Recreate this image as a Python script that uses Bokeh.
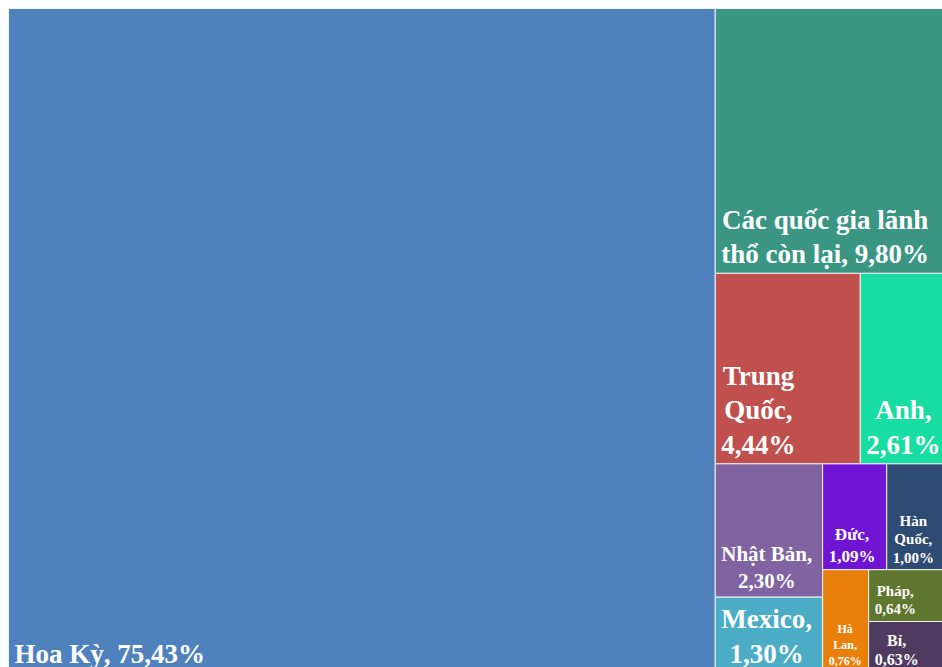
from bokeh.plotting import figure
from bokeh.models import Range1d, ColumnDataSource
from bokeh.core.properties import value
from bokeh.embed import file_html
from bokeh.resources import INLINE

# ---- data -------------------------------------------------------------
countries = ["Hoa Kỳ", "Các quốc gia lãnh thổ còn lại", "Trung Quốc", "Anh",
             "Nhật Bản", "Mexico", "Đức", "Hàn Quốc", "Hà Lan", "Pháp", "Bỉ"]
shares = [75.43, 9.80, 4.44, 2.61, 2.30, 1.30, 1.09, 1.00, 0.76, 0.64, 0.63]
label_templates = ["Hoa Kỳ, {}", "Các quốc gia lãnh\nthổ còn lại, {}", "Trung\nQuốc,\n{}",
                   "Anh,\n{}", "Nhật Bản,\n{}", "Mexico,\n{}", "Đức,\n{}",
                   "Hàn\nQuốc,\n{}", "Hà\nLan,\n{}", "Pháp,\n{}", "Bỉ,\n{}"]

# ---- styles -----------------------------------------------------------
colors = ["#4F81BD", "#3A9682", "#C0504D", "#17DDA0", "#8064A2", "#4BACC6",
          "#7014D3", "#2E4B73", "#E9800C", "#5E762E", "#4F3A60"]
font_px = [27, 27, 27, 27, 21, 27, 17, 15, 12, 15, 16]
strips = [1, 1, 2, 2, 2, 1, 1, 1]   # number of tiles per strip of the layout

LAYOUT_W, LAYOUT_H = 937, 664       # full treemap extent (window crops it)
FIG_W, FIG_H = 942, 667
MARGIN = 8


def strip_layout(vals, strip_sizes, x0, y0, w, h):
    """Each strip is laid along the shorter side of the remaining rectangle."""
    rects = []
    i = 0
    remaining = float(sum(vals))
    for n in strip_sizes:
        group = vals[i:i + n]
        s = float(sum(group))
        if w >= h:
            sw = w * s / remaining
            yy = y0
            for v in group:
                hh = h * v / s
                rects.append((x0, yy, sw, hh))
                yy += hh
            x0 += sw
            w -= sw
        else:
            sh = h * s / remaining
            xx = x0
            for v in group:
                ww = w * v / s
                rects.append((xx, y0, ww, sh))
                xx += ww
            y0 += sh
            h -= sh
        remaining -= s
        i += n
    return rects


rects = strip_layout(shares, strips, 0.0, 0.0, LAYOUT_W, LAYOUT_H)

left = [r[0] for r in rects]
right = [r[0] + r[2] for r in rects]
top = [r[1] for r in rects]
bottom = [r[1] + r[3] for r in rects]
labels = [t.format(("%.2f" % v).replace(".", ",") + "%") for t, v in zip(label_templates, shares)]

src = ColumnDataSource(dict(
    left=left, right=right, top=top, bottom=bottom, color=colors,
    tx=[l + 6 for l in left], ty=[b - 4 for b in bottom],
    label=labels, fs=["%dpx" % f for f in font_px], name=countries, share=shares,
))

p = figure(width=FIG_W, height=FIG_H, output_backend="svg", toolbar_location=None,
           x_range=Range1d(-MARGIN, FIG_W - MARGIN), y_range=Range1d(FIG_H - MARGIN, -MARGIN),
           x_axis_location=None, y_axis_location=None, min_border=0)
p.grid.visible = False
p.outline_line_color = None
p.background_fill_color = "white"
p.border_fill_color = "white"

p.quad(left="left", right="right", top="top", bottom="bottom", source=src,
       fill_color="color", line_color="#F2F2F2", line_width=1)

p.text(x="tx", y="ty", text="label", source=src,
       text_font=value("Liberation Serif"), text_font_style="bold",
       text_font_size="fs", text_color="white", text_align="center",
       anchor=value("bottom_left"), text_line_height=1.15)

open("out.html", "w").write(file_html(p, INLINE))
